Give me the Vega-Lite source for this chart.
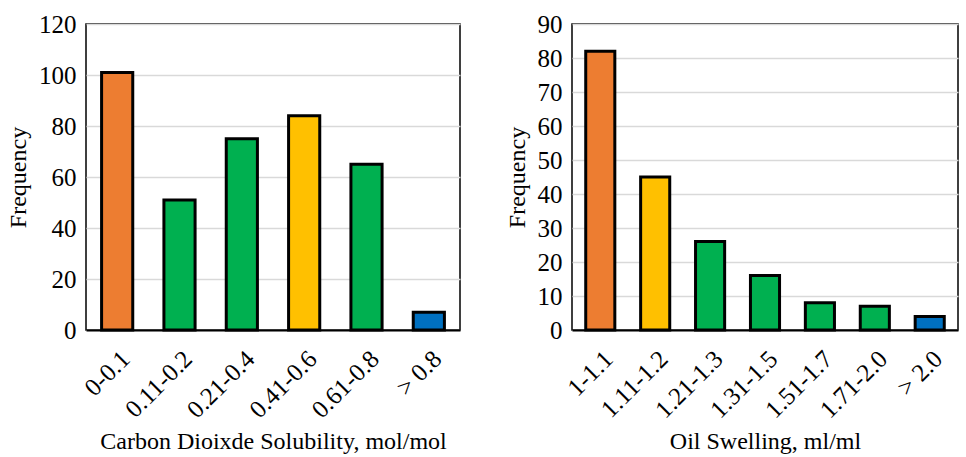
{
  "$schema": "https://vega.github.io/schema/vega-lite/v6.json",
  "background": "white",
  "padding": {"left": 5, "top": 11, "right": 0, "bottom": 0},
  "spacing": 43,
  "config": {
    "font": "Liberation Serif",
    "view": {"stroke": "black", "strokeWidth": 1.5},
    "axis": {
      "labelFont": "Liberation Serif",
      "titleFont": "Liberation Serif",
      "labelFontSize": 25,
      "titleFontSize": 24,
      "titleFontWeight": "normal",
      "labelColor": "black",
      "titleColor": "black",
      "tickSize": 0,
      "labelPadding": 10
    },
    "axisX": {"labelAngle": -45, "domainColor": "black", "domainWidth": 2, "grid": false, "titlePadding": 7, "labelPadding": 16},
    "axisY": {"gridColor": "#D9D9D9", "gridWidth": 1.5, "domain": false, "titlePadding": 8}
  },
  "hconcat": [
    {
      "width": 374,
      "height": 306,
      "data": {"values": [
        {"bin": "0-0.1", "freq": 101, "grp": "a"},
        {"bin": "0.11-0.2", "freq": 51, "grp": "c"},
        {"bin": "0.21-0.4", "freq": 75, "grp": "c"},
        {"bin": "0.41-0.6", "freq": 84, "grp": "b"},
        {"bin": "0.61-0.8", "freq": 65, "grp": "c"},
        {"bin": "> 0.8", "freq": 7, "grp": "d"}
      ]},
      "mark": {"type": "bar", "stroke": "black", "strokeWidth": 3, "strokeJoin": "miter"},
      "encoding": {
        "x": {"field": "bin", "type": "nominal", "sort": null, "title": "Carbon Dioixde Solubility, mol/mol",
              "scale": {"paddingInner": 0.5, "paddingOuter": 0.25}},
        "y": {"field": "freq", "type": "quantitative", "title": "Frequency",
              "scale": {"domain": [0, 120]}, "axis": {"values": [0, 20, 40, 60, 80, 100, 120]}},
        "color": {"field": "grp", "type": "nominal", "legend": null,
                  "scale": {"domain": ["a", "b", "c", "d"], "range": ["#ED7D31", "#FFC000", "#00B050", "#0070C0"]}}
      }
    },
    {
      "width": 386,
      "height": 306,
      "data": {"values": [
        {"bin": "1-1.1", "freq": 82, "grp": "a"},
        {"bin": "1.11-1.2", "freq": 45, "grp": "b"},
        {"bin": "1.21-1.3", "freq": 26, "grp": "c"},
        {"bin": "1.31-1.5", "freq": 16, "grp": "c"},
        {"bin": "1.51-1.7", "freq": 8, "grp": "c"},
        {"bin": "1.71-2.0", "freq": 7, "grp": "c"},
        {"bin": "> 2.0", "freq": 4, "grp": "d"}
      ]},
      "mark": {"type": "bar", "stroke": "black", "strokeWidth": 3, "strokeJoin": "miter"},
      "encoding": {
        "x": {"field": "bin", "type": "nominal", "sort": null, "title": "Oil Swelling, ml/ml",
              "scale": {"paddingInner": 0.47, "paddingOuter": 0.25}},
        "y": {"field": "freq", "type": "quantitative", "title": "Frequency",
              "scale": {"domain": [0, 90]}, "axis": {"values": [0, 10, 20, 30, 40, 50, 60, 70, 80, 90]}},
        "color": {"field": "grp", "type": "nominal", "legend": null,
                  "scale": {"domain": ["a", "b", "c", "d"], "range": ["#ED7D31", "#FFC000", "#00B050", "#0070C0"]}}
      }
    }
  ],
  "resolve": {"scale": {"color": "independent"}}
}
